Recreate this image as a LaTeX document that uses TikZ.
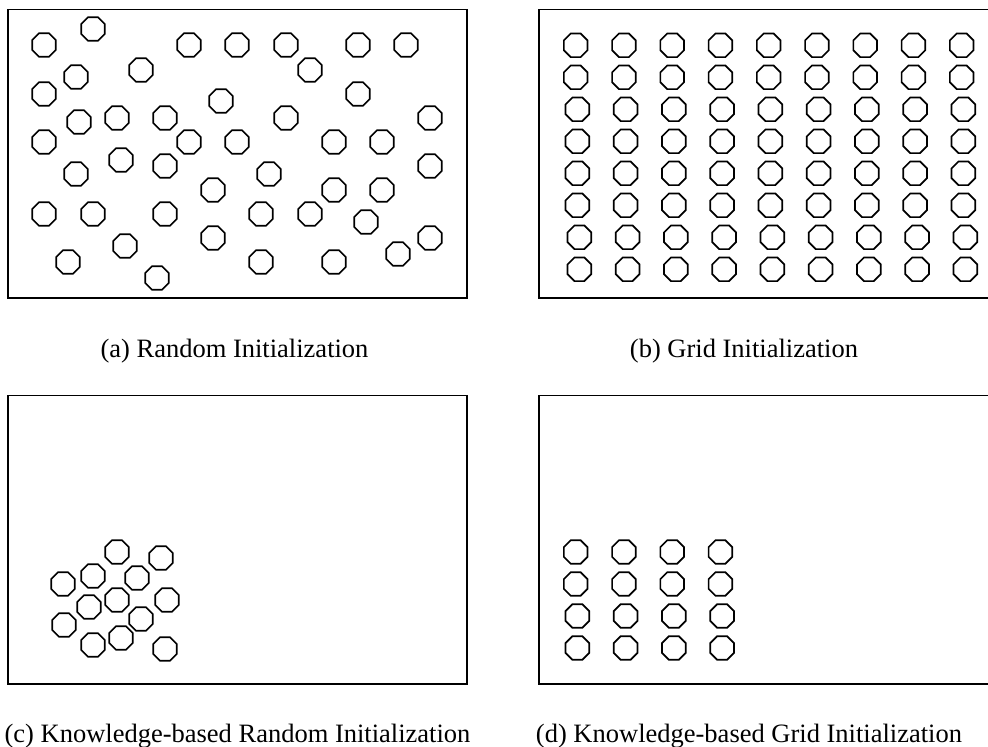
\documentclass[tikz,border=0pt]{standalone}
\usepackage{fontspec}
\setmainfont{Liberation Serif}
\begin{document}
\begin{tikzpicture}[x=1pt,y=-1pt,
  agent/.style={draw,line width=1.7pt,line join=miter},
  panel/.style={draw,line width=1.8pt},
  caption/.style={anchor=base,inner sep=0pt,font=\fontsize{26.5}{30}\selectfont}]
% an agent: a regular octagon (flat top, circumradius 12.8) round a named centre
\newcommand\agentat[2]{%
  \coordinate (#1) at (#2);
  \draw[agent] (#1) +(22.5:12.8) -- +(67.5:12.8) -- +(112.5:12.8) -- +(157.5:12.8)
    -- +(202.5:12.8) -- +(247.5:12.8) -- +(292.5:12.8) -- +(337.5:12.8) -- cycle;}
\useasboundingbox (0,0) rectangle (988,747);
\clip (0,0) rectangle (988,747);

% panel frames
\draw[panel] (8,9.5) rectangle (467,298);
\draw[panel] (539,9.5) rectangle (1000,298);
\draw[panel] (8,395.5) rectangle (467,684);
\draw[panel] (539,395.5) rectangle (1000,684);

% (a) random placement
\foreach \px/\py [count=\k] in {
  44/45, 93/29, 189/45, 237/45, 286/45, 358/45, 406/45,
  76/77, 141/70, 310/70,
  44/94, 221/101, 358/94,
  79/122, 117/118, 165/118, 286/118, 430/118,
  44/142, 189/142, 237/142, 334/142, 382/142,
  121/160, 165/166, 76/174, 269/174, 430/166,
  213/190, 334/190, 382/190,
  44/214, 93/214, 165/214, 261/214, 310/214, 366/222,
  125/246, 213/238, 430/238, 398/254,
  68/262, 261/262, 334/262,
  157/278}
  {\agentat{a\k}{\px,\py}}

% (b) grid placement: 9 columns x 8 rows
\foreach \r/\py/\dx in {1/45.3/0, 2/77.3/0, 3/109.3/1.7, 4/141.3/1.7,
                        5/173.3/1.7, 6/205.3/1.7, 7/237.3/3.7, 8/269.3/3.7}
  \foreach \c in {0,...,8}
    {\agentat{b\r-\c}{{575.7+48.25*\c+\dx},\py}}

% (c) knowledge-based random placement
\foreach \px/\py [count=\k] in {
  117/552, 161/558, 93/576, 137/578, 63/584,
  117/600, 89/607, 167/600, 141/619, 64/625,
  121/638, 93/645, 165/649}
  {\agentat{c\k}{\px,\py}}

% (d) knowledge-based grid placement: 4 columns x 4 rows
\foreach \r/\py/\dx in {1/552/0, 2/584/0, 3/616/1.7, 4/648/1.7}
  \foreach \c in {0,...,3}
    {\agentat{d\r-\c}{{575.7+48.25*\c+\dx},\py}}

% captions
\node[caption] (capa) at (234.5,357) {(a) Random Initialization};
\node[caption] (capb) at (744,357) {(b) Grid Initialization};
\node[caption] (capc) at (237.5,742) {(c) Knowledge-based Random Initialization};
\node[caption] (capd) at (749,742) {(d) Knowledge-based Grid Initialization};
\end{tikzpicture}
\end{document}
